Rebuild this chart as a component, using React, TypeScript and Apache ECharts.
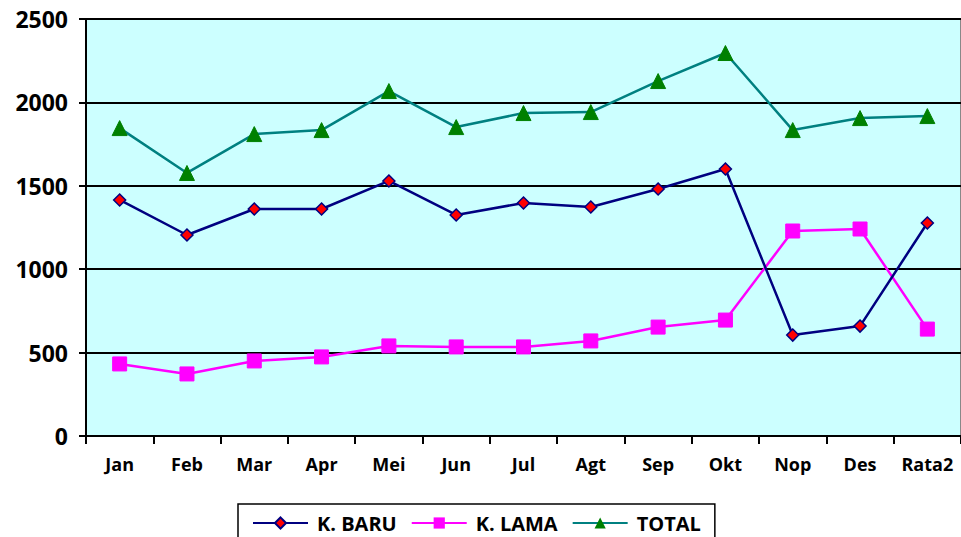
import React, { useEffect, useRef } from "react";
import * as echarts from "echarts";

const categories = ["Jan", "Feb", "Mar", "Apr", "Mei", "Jun", "Jul", "Agt", "Sep", "Okt", "Nop", "Des", "Rata2"];
const kBaru = [1415, 1205, 1361, 1361, 1529, 1325, 1397, 1373, 1481, 1601, 605, 659, 1277];
const kLama = [432, 372, 450, 474, 540, 534, 534, 570, 653, 695, 1229, 1241, 641];
const total = [1846, 1577, 1810, 1834, 2068, 1852, 1936, 1942, 2128, 2296, 1834, 1906, 1918];

const FONT = "'Open Sans', Lato, sans-serif";

export default function App() {
  const ref = useRef<HTMLDivElement>(null);
  useEffect(() => {
    if (!ref.current) return;
    const chart = echarts.init(ref.current, undefined, { renderer: "svg" });
    chart.setOption({
      animation: false,
      backgroundColor: "#ffffff",
      grid: {
        left: 86,
        top: 19,
        right: -5,
        bottom: 101,
        show: true,
        backgroundColor: "#CCFFFF",
        borderColor: "#888888",
        borderWidth: 2,
      },
      legend: {
        bottom: -20,
        left: 238,
        width: 485,
        itemGap: 14,
        itemWidth: 55,
        itemHeight: 14,
        borderColor: "#000",
        borderWidth: 1.5,
        padding: [9, 14, 24, 14],
        textStyle: { fontFamily: FONT, fontWeight: "bold", fontSize: 20, color: "#000", padding: [0, 0, 0, 4] },
        data: ["K. BARU", "K. LAMA", "TOTAL"],
      },
      xAxis: {
        type: "category",
        data: categories,
        boundaryGap: true,
        axisLine: { lineStyle: { color: "#000", width: 2 } },
        axisTick: { show: true, length: 8, inside: false, lineStyle: { color: "#000", width: 2 } },
        axisLabel: { fontFamily: FONT, fontWeight: "bold", fontSize: 18, color: "#000", margin: 19 },
        splitLine: { show: false },
      },
      yAxis: {
        type: "value",
        min: 0,
        max: 2500,
        interval: 500,
        axisLine: { show: true, lineStyle: { color: "#000", width: 2 } },
        axisTick: { show: true, length: 7, lineStyle: { color: "#000", width: 2 } },
        axisLabel: {
          fontFamily: FONT,
          fontWeight: "bold",
          fontSize: 23,
          color: "#000",
          margin: 18,
          formatter: (v: number) => String(v),
        },
        splitLine: { show: true, lineStyle: { color: "#000", width: 2 } },
      },
      series: [
        {
          name: "K. BARU",
          type: "line",
          data: kBaru,
          symbol: "diamond",
          symbolSize: 12,
          lineStyle: { color: "#000080", width: 2.5 },
          itemStyle: { color: "#FF0000", borderColor: "#000080", borderWidth: 1.5 },
          z: 3,
        },
        {
          name: "K. LAMA",
          type: "line",
          data: kLama,
          symbol: "rect",
          symbolSize: 14,
          lineStyle: { color: "#FF00FF", width: 2.5 },
          itemStyle: { color: "#FF00FF", borderColor: "#FF00FF" },
          z: 2,
        },
        {
          name: "TOTAL",
          type: "line",
          data: total,
          symbol: "triangle",
          symbolSize: 15,
          lineStyle: { color: "#008080", width: 2.5 },
          itemStyle: { color: "#008000", borderColor: "#008000" },
          z: 2,
        },
      ],
    });
    return () => chart.dispose();
  }, []);
  return <div ref={ref} style={{ width: 961, height: 537, position: "absolute", left: 0, top: 0 }} />;
}
